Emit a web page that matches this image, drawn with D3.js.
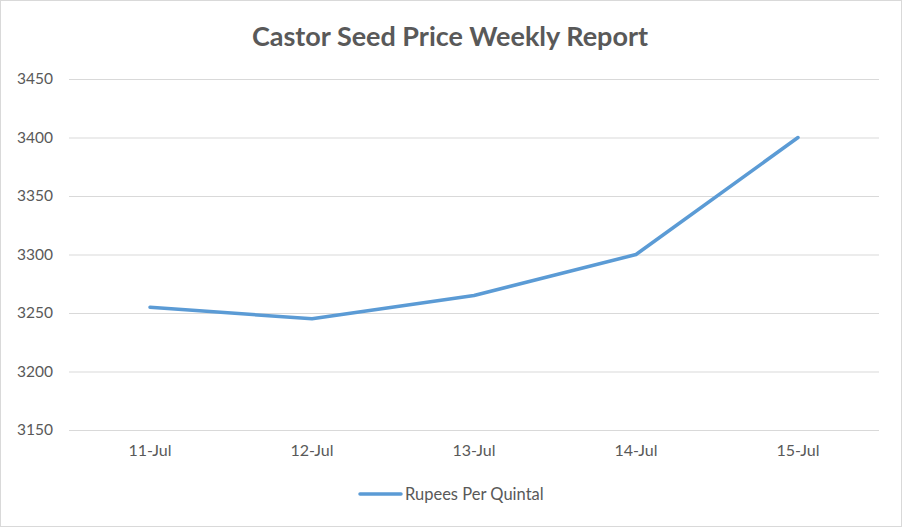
<!DOCTYPE html>
<html><head><meta charset="utf-8">
<script src="https://cdn.jsdelivr.net/npm/d3@7"></script>
<style>body{margin:0;background:#fff}svg{display:block}text{font-family:Lato,"Open Sans",sans-serif}</style>
</head><body><svg id="c" width="902" height="527"></svg>
<script>
const categories = ["11-Jul","12-Jul","13-Jul","14-Jul","15-Jul"];
const values = [3255,3245,3265,3300,3400];
const yTicks = [3150,3200,3250,3300,3350,3400,3450];
const seriesName = "Rupees Per Quintal";
const title = "Castor Seed Price Weekly Report";

const svg = d3.select("#c");
svg.append("rect").attr("x",0.5).attr("y",0.5).attr("width",901).attr("height",526)
  .attr("fill","#fff").attr("stroke","#d9d9d9");

const x = d3.scaleBand().domain(categories).range([69,879]);
const y = d3.scaleLinear().domain([3150,3450]).range([430,79]);

svg.append("text").attr("x",450).attr("y",46).attr("text-anchor","middle")
  .attr("font-size",27).attr("font-weight","bold").attr("fill","#595959").text(title);

const ya = svg.append("g").attr("transform","translate(69,0)")
  .call(d3.axisLeft(y).tickValues(yTicks).tickSize(-810).tickPadding(16).tickFormat(d3.format("d")));
ya.select(".domain").remove();
ya.selectAll(".tick line").attr("stroke","#d9d9d9");
ya.selectAll("text").attr("fill","#595959").attr("font-size",15.5).attr("font-family","Lato,'Open Sans',sans-serif");

const xa = svg.append("g").attr("transform","translate(0,430)")
  .call(d3.axisBottom(x).tickSize(0).tickPadding(15));
xa.select(".domain").remove();
xa.selectAll("text").attr("fill","#595959").attr("font-size",16).attr("font-family","Lato,'Open Sans',sans-serif");

const line = d3.line().x((d,i)=>x(categories[i])+x.bandwidth()/2).y(d=>y(d));
svg.append("path").datum(values).attr("d",line).attr("fill","none")
  .attr("stroke","#5b9bd5").attr("stroke-width",3.5).attr("stroke-linejoin","round").attr("stroke-linecap","round");

const lg = svg.append("g");
lg.append("line").attr("x1",360).attr("x2",401).attr("y1",494).attr("y2",494)
  .attr("stroke","#5b9bd5").attr("stroke-width",3.5).attr("stroke-linecap","round");
lg.append("text").attr("x",405).attr("y",500).attr("font-size",16.5).attr("fill","#595959").text(seriesName);
</script></body></html>
